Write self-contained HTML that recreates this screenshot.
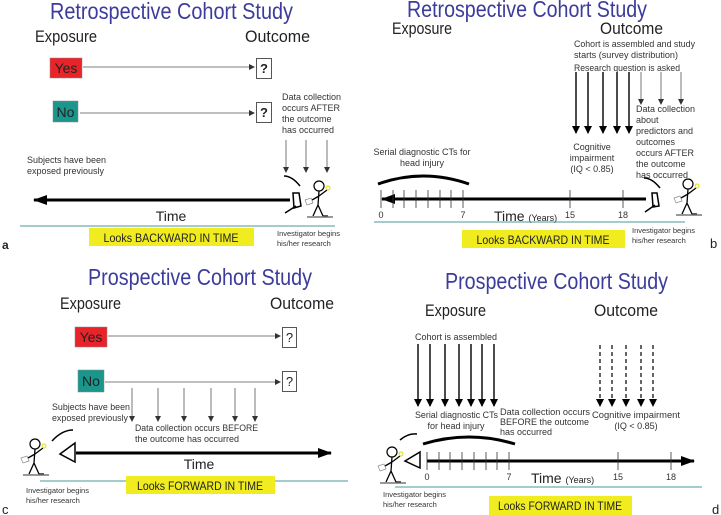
<!DOCTYPE html>
<html><head><meta charset="utf-8"><style>
html,body{margin:0;padding:0;background:#fff;}
svg{display:block;font-family:"Liberation Sans",sans-serif;}
.t{fill:#3c3c9c;font-size:23px;}
.h{fill:#222;font-size:17px;}
.s{fill:#333;font-size:9px;}
.xs{fill:#333;font-size:7.5px;}
</style></head><body>
<svg width="721" height="515" viewBox="0 0 721 515" xmlns="http://www.w3.org/2000/svg">
<defs>
<marker id="ah" markerWidth="6" markerHeight="6" refX="5" refY="3" orient="auto" markerUnits="userSpaceOnUse"><path d="M0,0 L6,3 L0,6 z" fill="#333"/></marker>
<marker id="ab" markerWidth="8" markerHeight="8" refX="7" refY="4" orient="auto" markerUnits="userSpaceOnUse"><path d="M0,0 L8,4 L0,8 z" fill="#000"/></marker>
<marker id="big" markerWidth="14" markerHeight="10" refX="13" refY="5" orient="auto" markerUnits="userSpaceOnUse"><path d="M0,0 L14,5 L0,10 z" fill="#000"/></marker>
<g id="man">
<circle cx="0" cy="-22" r="5" fill="none" stroke="#000" stroke-width="1.2"/>
<path d="M0,-17 L-1,-3 L-6,8 M-1,-3 L4,8 L9,8 M0,-12 L8,-18 M0,-12 L-7,-8" fill="none" stroke="#000" stroke-width="1.3"/>
<circle cx="9" cy="-20" r="2" fill="none" stroke="#dd0" stroke-width="1"/>
<path d="M-14,-8 l6,-2 l2,5 l-6,2z" fill="none" stroke="#888" stroke-width="0.7"/>
<line x1="-12" y1="9" x2="14" y2="9" stroke="#777" stroke-width="1.5"/>
</g>
</defs>

<!-- Panel a -->
<text class="t" x="50" y="19" textLength="243" lengthAdjust="spacingAndGlyphs">Retrospective Cohort Study</text>
<text class="h" x="35" y="42" textLength="62" lengthAdjust="spacingAndGlyphs">Exposure</text>
<text class="h" x="245" y="42" textLength="65" lengthAdjust="spacingAndGlyphs">Outcome</text>
<rect x="50" y="58" width="32" height="20" fill="#e8242a" stroke="#888" stroke-width="0.5"/>
<text x="66" y="73" font-size="14" fill="#222" text-anchor="middle">Yes</text>
<line x1="83" y1="67" x2="254" y2="67" stroke="#555" stroke-width="0.8" marker-end="url(#ah)"/>
<rect x="256.5" y="58.5" width="15" height="20" fill="#fff" stroke="#555"/>
<text x="264" y="73" font-size="13" font-weight="bold" fill="#222" text-anchor="middle">?</text>
<rect x="53" y="101" width="25" height="21" fill="#1b968d" stroke="#888" stroke-width="0.5"/>
<text x="65.5" y="117" font-size="14" fill="#222" text-anchor="middle">No</text>
<line x1="80" y1="113" x2="254" y2="113" stroke="#555" stroke-width="0.8" marker-end="url(#ah)"/>
<rect x="256.5" y="102.5" width="15" height="20" fill="#fff" stroke="#555"/>
<text x="264" y="117" font-size="13" font-weight="bold" fill="#222" text-anchor="middle">?</text>
<text class="s" x="282" y="100">Data collection</text>
<text class="s" x="282" y="111">occurs AFTER</text>
<text class="s" x="282" y="122">the outcome</text>
<text class="s" x="282" y="133">has occurred</text>
<g stroke="#555" stroke-width="0.8"><line x1="286" y1="140" x2="286" y2="172" marker-end="url(#ah)"/><line x1="306" y1="140" x2="306" y2="172" marker-end="url(#ah)"/><line x1="327" y1="140" x2="327" y2="172" marker-end="url(#ah)"/></g>
<text class="s" x="27" y="163">Subjects have been</text>
<text class="s" x="27" y="174">exposed previously</text>
<line x1="290" y1="200" x2="34" y2="200" stroke="#000" stroke-width="3" marker-end="url(#big)"/>
<path d="M284,176 Q292,176 300,186 M285,213 L296,206 M293,193 L299,193 L301,206 L294,208 Z" fill="none" stroke="#000" stroke-width="1.5"/>
<use href="#man" x="319" y="208"/>
<text x="171" y="221" font-size="14" fill="#222" text-anchor="middle">Time</text>
<line x1="20" y1="226" x2="335" y2="226" stroke="#4a9a98" stroke-width="1"/>
<rect x="89" y="228" width="165" height="18" fill="#f0ec20"/>
<text x="171" y="242" font-size="12" fill="#222" text-anchor="middle" textLength="135" lengthAdjust="spacingAndGlyphs">Looks BACKWARD IN TIME</text>
<text class="xs" x="277" y="236">Investigator begins</text>
<text class="xs" x="277" y="246">his/her research</text>
<text x="2" y="249" font-size="12" font-weight="bold" fill="#222">a</text>

<!-- Panel b -->
<text class="t" x="407" y="17" textLength="240" lengthAdjust="spacingAndGlyphs">Retrospective Cohort Study</text>
<text class="h" x="392" y="34" textLength="60" lengthAdjust="spacingAndGlyphs">Exposure</text>
<text class="h" x="600" y="34" textLength="63" lengthAdjust="spacingAndGlyphs">Outcome</text>
<text class="s" x="574" y="47" textLength="121" lengthAdjust="spacingAndGlyphs">Cohort is assembled and study</text>
<text class="s" x="574" y="58" textLength="104" lengthAdjust="spacingAndGlyphs">starts (survey distribution)</text>
<text class="s" x="574" y="71" textLength="106" lengthAdjust="spacingAndGlyphs">Research question is asked</text>
<g stroke="#000" stroke-width="1.4"><line x1="576" y1="72" x2="576" y2="133" marker-end="url(#ab)"/><line x1="588" y1="72" x2="588" y2="133" marker-end="url(#ab)"/><line x1="603" y1="72" x2="603" y2="133" marker-end="url(#ab)"/><line x1="617" y1="72" x2="617" y2="133" marker-end="url(#ab)"/><line x1="629" y1="72" x2="629" y2="133" marker-end="url(#ab)"/></g>
<g stroke="#555" stroke-width="0.8"><line x1="641" y1="72" x2="641" y2="104" marker-end="url(#ah)"/><line x1="661" y1="72" x2="661" y2="104" marker-end="url(#ah)"/><line x1="681" y1="72" x2="681" y2="104" marker-end="url(#ah)"/></g>
<text class="s" x="636" y="112">Data collection</text>
<text class="s" x="636" y="123">about</text>
<text class="s" x="636" y="134">predictors and</text>
<text class="s" x="636" y="145">outcomes</text>
<text class="s" x="636" y="156">occurs AFTER</text>
<text class="s" x="636" y="167">the outcome</text>
<text class="s" x="636" y="178">has occurred</text>
<text class="s" x="592" y="150" text-anchor="middle">Cognitive</text>
<text class="s" x="592" y="161" text-anchor="middle">impairment</text>
<text class="s" x="592" y="172" text-anchor="middle">(IQ &lt; 0.85)</text>
<text class="s" x="422" y="155" text-anchor="middle">Serial diagnostic CTs for</text>
<text class="s" x="422" y="166" text-anchor="middle">head injury</text>
<path d="M378,184 Q423,168 469,184" fill="none" stroke="#000" stroke-width="3"/>
<line x1="646" y1="199" x2="382" y2="199" stroke="#000" stroke-width="3" marker-end="url(#big)"/>
<g stroke="#333" stroke-width="0.8">
<line x1="381" y1="190" x2="381" y2="208"/><line x1="393" y1="190" x2="393" y2="208"/><line x1="404" y1="190" x2="404" y2="208"/><line x1="416" y1="190" x2="416" y2="208"/><line x1="428" y1="190" x2="428" y2="208"/><line x1="440" y1="190" x2="440" y2="208"/><line x1="451" y1="190" x2="451" y2="208"/><line x1="463" y1="190" x2="463" y2="208"/><line x1="570" y1="190" x2="570" y2="208"/><line x1="623" y1="190" x2="623" y2="208"/></g>
<text class="s" x="381" y="218" text-anchor="middle">0</text><text class="s" x="463" y="218" text-anchor="middle">7</text><text class="s" x="570" y="218" text-anchor="middle">15</text><text class="s" x="623" y="218" text-anchor="middle">18</text>
<text x="494" y="221" font-size="14" fill="#222">Time <tspan font-size="9">(Years)</tspan></text>
<path d="M644,178 Q652,178 660,188 M645,212 L655,205 M652,193 L657,193 L659,206 L653,207 Z" fill="none" stroke="#000" stroke-width="1.5"/>
<use href="#man" x="688" y="206"/>
<line x1="374" y1="222" x2="685" y2="222" stroke="#4a9a98" stroke-width="1"/>
<rect x="462" y="230" width="163" height="18" fill="#f0ec20"/>
<text x="543" y="244" font-size="12" fill="#222" text-anchor="middle" textLength="133" lengthAdjust="spacingAndGlyphs">Looks BACKWARD IN TIME</text>
<text class="xs" x="632" y="233">Investigator begins</text>
<text class="xs" x="632" y="243">his/her research</text>
<text x="710" y="248" font-size="13" fill="#222">b</text>

<!-- Panel c -->
<text class="t" x="88" y="285" textLength="224" lengthAdjust="spacingAndGlyphs">Prospective Cohort Study</text>
<text class="h" x="60" y="309" textLength="61" lengthAdjust="spacingAndGlyphs">Exposure</text>
<text class="h" x="270" y="309" textLength="64" lengthAdjust="spacingAndGlyphs">Outcome</text>
<rect x="75" y="327" width="32" height="20" fill="#e8242a" stroke="#888" stroke-width="0.5"/>
<text x="91" y="342" font-size="14" fill="#222" text-anchor="middle">Yes</text>
<line x1="108" y1="336" x2="280" y2="336" stroke="#555" stroke-width="0.8" marker-end="url(#ah)"/>
<rect x="282.5" y="327.5" width="14" height="20" fill="#fff" stroke="#555"/>
<text x="289.5" y="342" font-size="13" fill="#222" text-anchor="middle">?</text>
<rect x="78" y="370" width="26" height="22" fill="#1b968d" stroke="#888" stroke-width="0.5"/>
<text x="91" y="386" font-size="14" fill="#222" text-anchor="middle">No</text>
<line x1="105" y1="382" x2="280" y2="382" stroke="#555" stroke-width="0.8" marker-end="url(#ah)"/>
<rect x="282.5" y="371.5" width="14" height="20" fill="#fff" stroke="#555"/>
<text x="289.5" y="386" font-size="13" fill="#222" text-anchor="middle">?</text>
<g stroke="#555" stroke-width="0.8"><line x1="132" y1="388" x2="132" y2="421" marker-end="url(#ah)"/><line x1="158" y1="388" x2="158" y2="421" marker-end="url(#ah)"/><line x1="184" y1="388" x2="184" y2="421" marker-end="url(#ah)"/><line x1="211" y1="388" x2="211" y2="421" marker-end="url(#ah)"/><line x1="235" y1="388" x2="235" y2="421" marker-end="url(#ah)"/><line x1="255" y1="388" x2="255" y2="421" marker-end="url(#ah)"/></g>
<text class="s" x="52" y="410" textLength="78" lengthAdjust="spacingAndGlyphs">Subjects have been</text>
<text class="s" x="52" y="421" textLength="76" lengthAdjust="spacingAndGlyphs">exposed previously</text>
<text class="s" x="135" y="431" textLength="123" lengthAdjust="spacingAndGlyphs">Data collection occurs BEFORE</text>
<text class="s" x="135" y="442">the outcome has occurred</text>
<path d="M52,441 Q62,430 73,430 M60,454 L75,443 L75,462 Z" fill="none" stroke="#000" stroke-width="1.5"/>
<use href="#man" x="35" y="466"/>
<line x1="76" y1="453" x2="331" y2="453" stroke="#000" stroke-width="3" marker-end="url(#big)"/>
<text x="199" y="469" font-size="14" fill="#222" text-anchor="middle">Time</text>
<line x1="40" y1="481" x2="348" y2="481" stroke="#4a9a98" stroke-width="1"/>
<rect x="126" y="476" width="149" height="18" fill="#f0ec20"/>
<text x="200" y="490" font-size="12" fill="#222" text-anchor="middle" textLength="126" lengthAdjust="spacingAndGlyphs">Looks FORWARD IN TIME</text>
<text class="xs" x="26" y="493">Investigator begins</text>
<text class="xs" x="26" y="503">his/her research</text>
<text x="2" y="514" font-size="13" fill="#222">c</text>

<!-- Panel d -->
<text class="t" x="445" y="289" textLength="223" lengthAdjust="spacingAndGlyphs">Prospective Cohort Study</text>
<text class="h" x="425" y="316" textLength="61" lengthAdjust="spacingAndGlyphs">Exposure</text>
<text class="h" x="594" y="316" textLength="64" lengthAdjust="spacingAndGlyphs">Outcome</text>
<text class="s" x="415" y="340">Cohort is assembled</text>
<g stroke="#000" stroke-width="1.4"><line x1="418" y1="344" x2="418" y2="406" marker-end="url(#ab)"/><line x1="430" y1="344" x2="430" y2="406" marker-end="url(#ab)"/><line x1="445" y1="344" x2="445" y2="406" marker-end="url(#ab)"/><line x1="459" y1="344" x2="459" y2="406" marker-end="url(#ab)"/><line x1="471" y1="344" x2="471" y2="406" marker-end="url(#ab)"/><line x1="482" y1="344" x2="482" y2="406" marker-end="url(#ab)"/><line x1="494" y1="344" x2="494" y2="406" marker-end="url(#ab)"/></g>
<g stroke="#000" stroke-width="1.2" stroke-dasharray="4,3"><line x1="600" y1="345" x2="600" y2="406" marker-end="url(#ab)"/><line x1="612" y1="345" x2="612" y2="406" marker-end="url(#ab)"/><line x1="626" y1="345" x2="626" y2="406" marker-end="url(#ab)"/><line x1="641" y1="345" x2="641" y2="406" marker-end="url(#ab)"/><line x1="653" y1="345" x2="653" y2="406" marker-end="url(#ab)"/></g>
<text class="s" x="415" y="418" textLength="83" lengthAdjust="spacingAndGlyphs">Serial diagnostic CTs</text>
<text class="s" x="456" y="429" text-anchor="middle">for head injury</text>
<text class="s" x="500" y="415" textLength="90" lengthAdjust="spacingAndGlyphs">Data collection occurs</text>
<text class="s" x="500" y="425">BEFORE the outcome</text>
<text class="s" x="500" y="435">has occurred</text>
<text class="s" x="592" y="418" textLength="88" lengthAdjust="spacingAndGlyphs">Cognitive impairment</text>
<text class="s" x="636" y="429" text-anchor="middle">(IQ &lt; 0.85)</text>
<path d="M423,444 Q469,430 515,444" fill="none" stroke="#000" stroke-width="3"/>
<path d="M400,440 Q408,433 417,434 M405,461 L420,452 L420,468 Z" fill="none" stroke="#000" stroke-width="1.5"/>
<use href="#man" x="392" y="474"/>
<line x1="427" y1="461" x2="694" y2="461" stroke="#000" stroke-width="3" marker-end="url(#big)"/>
<g stroke="#333" stroke-width="0.8">
<line x1="427" y1="452" x2="427" y2="470"/><line x1="439" y1="452" x2="439" y2="470"/><line x1="450" y1="452" x2="450" y2="470"/><line x1="462" y1="452" x2="462" y2="470"/><line x1="474" y1="452" x2="474" y2="470"/><line x1="486" y1="452" x2="486" y2="470"/><line x1="497" y1="452" x2="497" y2="470"/><line x1="509" y1="452" x2="509" y2="470"/><line x1="618" y1="452" x2="618" y2="470"/><line x1="671" y1="452" x2="671" y2="470"/></g>
<text class="s" x="427" y="480" text-anchor="middle">0</text><text class="s" x="509" y="480" text-anchor="middle">7</text><text class="s" x="618" y="480" text-anchor="middle">15</text><text class="s" x="671" y="480" text-anchor="middle">18</text>
<text x="531" y="483" font-size="14" fill="#222">Time <tspan font-size="9">(Years)</tspan></text>
<line x1="395" y1="487" x2="702" y2="487" stroke="#4a9a98" stroke-width="1"/>
<rect x="489" y="496" width="143" height="19" fill="#f0ec20"/>
<text x="560" y="510" font-size="12" fill="#222" text-anchor="middle" textLength="124" lengthAdjust="spacingAndGlyphs">Looks FORWARD IN TIME</text>
<text class="xs" x="383" y="497">Investigator begins</text>
<text class="xs" x="383" y="507">his/her research</text>
<text x="712" y="514" font-size="13" fill="#222">d</text>
</svg>
</body></html>
